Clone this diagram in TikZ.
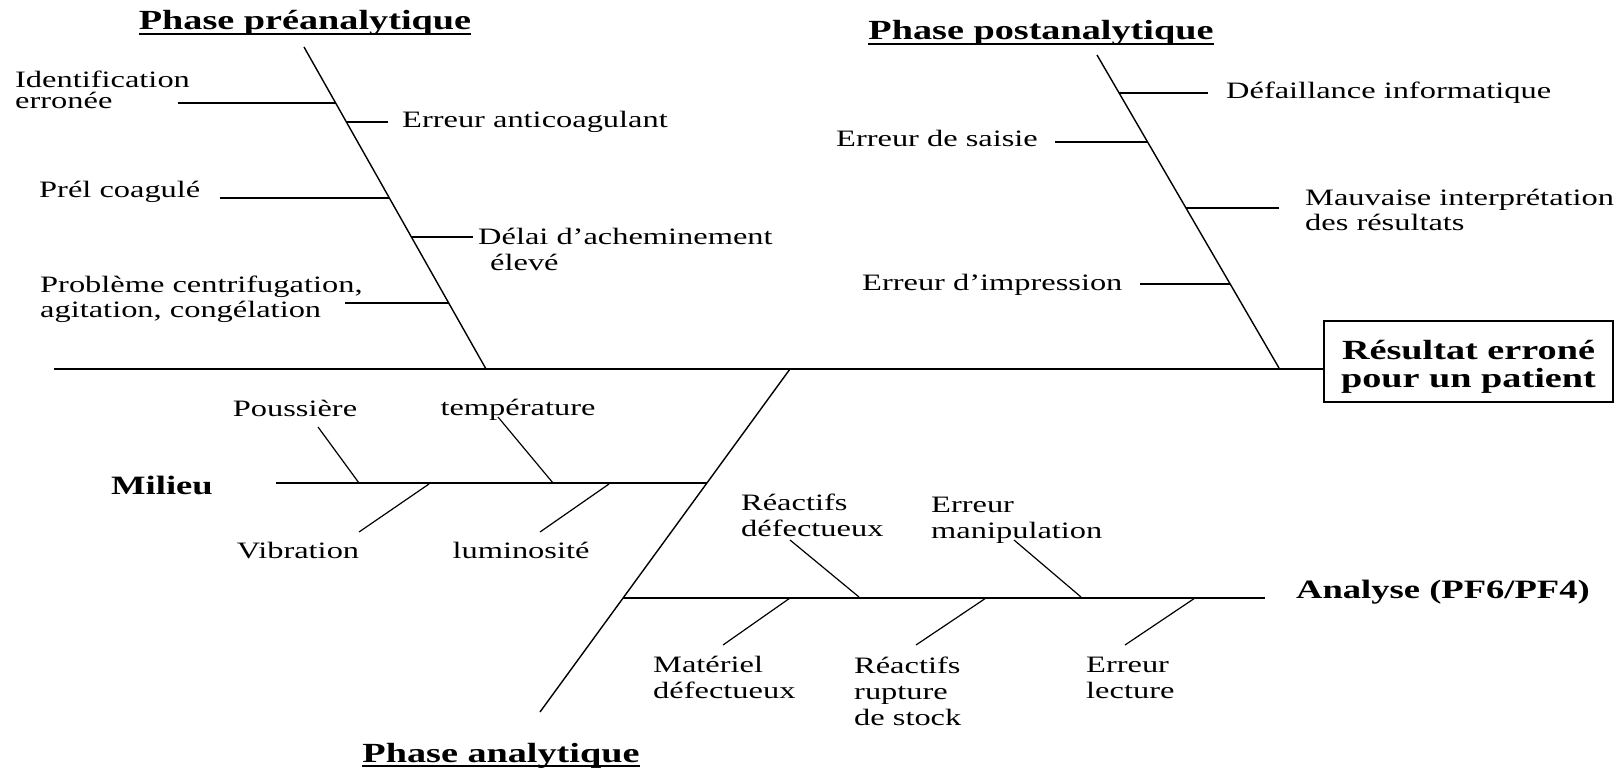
\documentclass[tikz,border=0pt]{standalone}
\usepackage{fontspec}
\setmainfont{Liberation Serif}[FakeStretch=1.38]
\usetikzlibrary{calc}
\begin{document}
\begin{tikzpicture}[x=1pt,y=-1pt,
  bone/.style={line width=1.4pt},
  twig/.style={line width=1.2pt},
  lbl/.style={inner sep=0pt, font=\fontsize{23.5}{26}\selectfont, align=left, anchor=base west},
  cat/.style={inner sep=0pt, font=\bfseries\fontsize{26.5}{30}\selectfont, anchor=base west},
  phase/.style={inner sep=0pt, font=\bfseries\fontsize{27.7}{32}\selectfont, anchor=base},
  resbox/.style={draw, line width=1.4pt, inner sep=0pt, minimum width=289pt, minimum height=81pt,
    align=center, font=\bfseries\fontsize{27.7}{28.5}\selectfont},
]
\useasboundingbox (0,0) rectangle (1619,770);

% ---------- spine ends ----------
\coordinate (preT) at (304,47);   \coordinate (preB) at (486,369);
\coordinate (postT) at (1097,55); \coordinate (postB) at (1279,368);
\coordinate (anaT) at (790,369);  \coordinate (anaB) at (540,712);
\coordinate (tail) at (54,369);

% ---------- effect ----------
\node[resbox] (res) at (1468.5,361.5) {\rule{0pt}{30pt}Résultat erroné\\pour un patient};
\draw[bone] (tail) -- (tail -| res.west);

% ---------- phase titles ----------
\node[phase] (tpre) at (305,30) {Phase préanalytique};
\node[phase] (tpost) at (1041,40) {Phase postanalytique};
\node[phase] (tana) at (501,762) {Phase analytique};
\foreach \t in {tpre,tpost,tana}
  \draw[line width=1.5pt] ([yshift=-4pt]\t.base west) -- ([yshift=-4pt]\t.base east);

% ---------- main bones ----------
\draw[bone] (preT) -- (preB);
\draw[bone] (postT) -- (postB);
\draw[bone] (anaT) -- (anaB);

% ---------- pre-analytical causes ----------
\coordinate (pa1) at ($(preT)!0.174!(preB)$); \coordinate (pe1) at (178,103);
\coordinate (pa2) at ($(preT)!0.233!(preB)$); \coordinate (pe2) at (388,122);
\coordinate (pa3) at ($(preT)!0.469!(preB)$); \coordinate (pe3) at (220,198);
\coordinate (pa4) at ($(preT)!0.590!(preB)$); \coordinate (pe4) at (473,237);
\coordinate (pa5) at ($(preT)!0.795!(preB)$); \coordinate (pe5) at (345,303);
\foreach \i in {1,...,5} \draw[twig] (pe\i) -- (pe\i -| pa\i);

% (a multi-line label sits on the baseline of its last line)
\node[lbl, font=\fontsize{23.5}{21}\selectfont] (l1) at (15,109) {Identification\\erronée};
\node[lbl] (l2) at (402,128) {Erreur anticoagulant};
\node[lbl] (l3) at (39,198) {Prél coagulé};
\node[lbl] (l4) at (478,270) {Délai d’acheminement\\\hspace*{12pt}élevé};
\node[lbl, font=\fontsize{23.5}{25}\selectfont] (l5) at (40,317) {Problème centrifugation,\\agitation, congélation};

% ---------- post-analytical causes ----------
\coordinate (qa1) at ($(postT)!0.121!(postB)$); \coordinate (qe1) at (1208,93);
\coordinate (qa2) at ($(postT)!0.278!(postB)$); \coordinate (qe2) at (1055,142);
\coordinate (qa3) at ($(postT)!0.489!(postB)$); \coordinate (qe3) at (1279,208);
\coordinate (qa4) at ($(postT)!0.732!(postB)$); \coordinate (qe4) at (1140,284);
\foreach \i in {1,...,4} \draw[twig] (qe\i) -- (qe\i -| qa\i);

\node[lbl] (m1) at (1226,99) {Défaillance informatique};
\node[lbl] (m2) at (836,147) {Erreur de saisie};
\node[lbl, font=\fontsize{23.5}{25}\selectfont] (m3) at (1305,230) {Mauvaise interprétation\\des résultats};
\node[lbl] (m4) at (862,290) {Erreur d’impression};

% ---------- environment sub-bone ----------
\coordinate (envA) at ($(anaT)!0.332!(anaB)$);
\coordinate (envE) at (276,483);
\draw[bone] (envE) -- (envE -| envA);
\node[cat] (env) at (111,494) {Milieu};

\coordinate (e1a) at (318,427); \coordinate (e1b) at (359,483);
\coordinate (e2a) at (498,417); \coordinate (e2b) at (553,483);
\coordinate (e3a) at (359,532); \coordinate (e3b) at (429,484);
\coordinate (e4a) at (540,532); \coordinate (e4b) at (609,484);
\foreach \i in {1,...,4} \draw[twig] (e\i a) -- (e\i b);

\node[lbl, anchor=base] (n1) at (295,416) {Poussière};
\node[lbl, anchor=base] (n2) at (518,415) {température};
\node[lbl, anchor=base] (n3) at (298,558) {Vibration};
\node[lbl, anchor=base] (n4) at (521,558) {luminosité};

% ---------- analysis sub-bone ----------
\coordinate (anA) at ($(anaT)!0.668!(anaB)$);
\coordinate (anE) at (1265,598);
\draw[bone] (anE) -- (anE -| anA);
\node[cat] (ana) at (1296,598) {Analyse (PF6/PF4)};

\coordinate (a1a) at (790,540);  \coordinate (a1b) at (859,597);
\coordinate (a2a) at (1014,540); \coordinate (a2b) at (1081,597);
\coordinate (a3a) at (723,645);  \coordinate (a3b) at (790,598);
\coordinate (a4a) at (916,645);  \coordinate (a4b) at (986,598);
\coordinate (a5a) at (1125,645); \coordinate (a5b) at (1195,598);
\foreach \i in {1,...,5} \draw[twig] (a\i a) -- (a\i b);

\node[lbl] (r1) at (741,536) {Réactifs\\défectueux};
\node[lbl] (r2) at (931,538) {Erreur\\manipulation};
\node[lbl] (r3) at (653,698) {Matériel\\défectueux};
\node[lbl] (r4) at (854,725) {Réactifs\\rupture\\de stock};
\node[lbl] (r5) at (1086,698) {Erreur\\lecture};
\end{tikzpicture}
\end{document}
